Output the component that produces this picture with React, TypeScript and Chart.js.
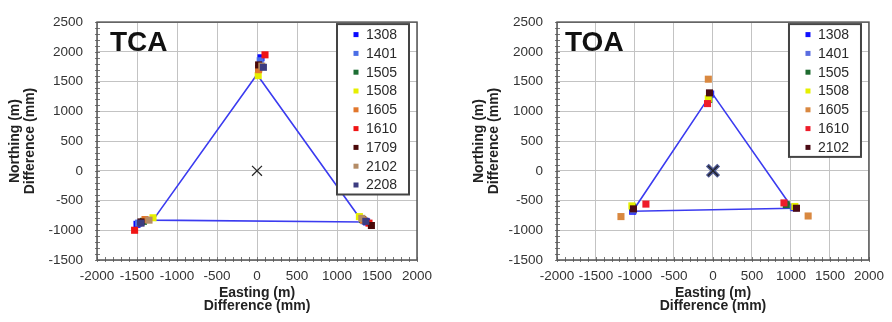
import React, { useEffect, useRef } from 'react';
import { Chart, registerables } from 'chart.js';

Chart.register(...registerables);

const FONT = '"Liberation Sans", Arial, Helvetica, sans-serif';

// ---------- TCA (left) ----------
const tcaSeries = ['1308', '1401', '1505', '1508', '1605', '1610', '1709', '2102', '2208'];
const tcaColors = ['#0a0aff', '#4a6ee6', '#1d6e34', '#e6ef00', '#e2772c', '#f01414', '#4a0808', '#b48c66', '#3c3c80'];
const tcaTopE = [50, 40, 20, 15, 20, 100, 20, 60, 80];
const tcaTopN = [1900, 1850, 1720, 1600, 1700, 1950, 1780, 1760, 1740];
const tcaLeftE = [-1500, -1480, -1420, -1300, -1400, -1530, -1450, -1350, -1450];
const tcaLeftN = [-900, -880, -850, -790, -820, -1000, -860, -830, -880];
const tcaRightE = [1370, 1340, 1320, 1280, 1330, 1400, 1430, 1310, 1360];
const tcaRightN = [-860, -840, -820, -770, -830, -880, -920, -800, -850];
const tcaFrameE = [0, 1320, -1300, 0];
const tcaFrameN = [1620, -860, -830, 1620];

// ---------- TOA (right) ----------
const toaSeries = ['1308', '1401', '1505', '1508', '1605', '1610', '2102'];
const toaColors = ['#1010ff', '#5a6de0', '#1e6b30', '#e5f000', '#d98840', '#ee1c2a', '#4a0a14'];
const toaTopE = [-30, -40, -55, -60, -60, -70, -45];
const toaTopN = [1290, 1280, 1200, 1210, 1540, 1130, 1310];
const toaLeftE = [-1030, -1020, -1030, -1040, -1180, -860, -1020];
const toaLeftN = [-680, -660, -610, -590, -770, -560, -640];
const toaRightE = [1040, 1030, 940, 1050, 1220, 910, 1070];
const toaRightN = [-620, -610, -570, -600, -760, -540, -630];
const toaFrameE = [-15, 1020, -1030, -15];
const toaFrameN = [1310, -630, -680, 1310];

const originE = [0];
const originN = [0];

const xTicksMin = -2000;
const xTicksMax = 2000;
const yTicksMin = -1500;
const yTicksMax = 2500;
const tickStep = 500;
const minorStep = 100;

type Pt = { x: number; y: number };
const pts = (e: number[], n: number[]): Pt[] => e.map((x, i) => ({ x, y: n[i] }));

function makeDecor(title: string, titleOffset: number) {
  return {
    id: 'decor_' + title,
    beforeDatasetsDraw(chart: any) {
      const { ctx, chartArea } = chart;
      const xs = chart.scales.x;
      const ys = chart.scales.y;
      ctx.save();
      ctx.strokeStyle = '#777';
      ctx.lineWidth = 1;
      ctx.beginPath();
      for (let v = xTicksMin; v <= xTicksMax; v += minorStep) {
        const px = Math.round(xs.getPixelForValue(v)) + 0.5;
        ctx.moveTo(px, chartArea.bottom + 2);
        ctx.lineTo(px, chartArea.bottom - 3);
      }
      for (let v = yTicksMin; v <= yTicksMax; v += minorStep) {
        const py = Math.round(ys.getPixelForValue(v)) + 0.5;
        ctx.moveTo(chartArea.left - 2, py);
        ctx.lineTo(chartArea.left + 3, py);
      }
      ctx.stroke();
      ctx.strokeStyle = '#555';
      ctx.lineWidth = 1.5;
      ctx.strokeRect(chartArea.left, chartArea.top, chartArea.right - chartArea.left, chartArea.bottom - chartArea.top);
      ctx.restore();
    },
    afterDraw(chart: any) {
      const { ctx, chartArea } = chart;
      ctx.save();
      ctx.fillStyle = '#111';
      ctx.font = `bold 28px ${FONT}`;
      ctx.textAlign = 'left';
      ctx.textBaseline = 'middle';
      ctx.fillText(title, chartArea.left + titleOffset, chartArea.top + 21);
      const items = chart.data.datasets.filter((d: any) => d.inLegend);
      const w = 72;
      const rowH = 18.8;
      const h = 20 + (items.length - 1) * rowH;
      const bx = chartArea.right - 8 - w;
      const by = chartArea.top + 2;
      ctx.fillStyle = '#fff';
      ctx.fillRect(bx, by, w, h);
      ctx.strokeStyle = '#444';
      ctx.lineWidth = 2;
      ctx.strokeRect(bx, by, w, h);
      ctx.font = `14px ${FONT}`;
      items.forEach((d: any, i: number) => {
        const cy = by + 10.5 + i * rowH;
        ctx.fillStyle = d.backgroundColor;
        ctx.fillRect(bx + 16.5, cy - 2.5, 5, 5);
        ctx.fillStyle = '#2a2a2a';
        ctx.fillText(d.label, bx + 29, cy + 0.5);
      });
      ctx.restore();
    },
  };
}

function buildConfig(
  title: string,
  titleOffset: number,
  series: string[],
  colors: string[],
  topE: number[], topN: number[],
  leftE: number[], leftN: number[],
  rightE: number[], rightN: number[],
  frameE: number[], frameN: number[],
  padLeft: number, padRight: number, yWidth: number,
  blueOrigin: boolean,
): any {
  const seriesSets = series.map((s, i) => ({
    label: s,
    inLegend: true,
    order: 10 + series.length - i,
    data: [
      { x: topE[i], y: topN[i] },
      { x: leftE[i], y: leftN[i] },
      { x: rightE[i], y: rightN[i] },
    ],
    pointStyle: 'rect',
    pointRadius: 5,
    backgroundColor: colors[i],
    borderColor: colors[i],
    borderWidth: 0,
    showLine: false,
  }));
  const originSets: any[] = [
    {
      label: 'origin',
      order: 1,
      data: pts(originE, originN),
      pointStyle: 'crossRot',
      pointRadius: 7,
      borderColor: '#222',
      backgroundColor: '#222',
      borderWidth: 1.2,
      showLine: false,
    },
  ];
  if (blueOrigin) {
    originSets.push({
      label: 'origin2',
      order: 2,
      data: pts(originE, originN),
      pointStyle: 'crossRot',
      pointRadius: 8,
      borderColor: '#4a5590',
      backgroundColor: '#4a5590',
      borderWidth: 4,
      showLine: false,
    });
  }
  const frameSet = {
    label: 'frame',
    order: 100,
    data: pts(frameE, frameN),
    showLine: true,
    pointRadius: 0,
    borderColor: '#3b3bf0',
    borderWidth: 1.6,
    fill: false,
    tension: 0,
  };
  return {
    type: 'scatter',
    data: { datasets: [...originSets, ...seriesSets, frameSet] },
    options: {
      responsive: false,
      animation: false,
      devicePixelRatio: 1,
      layout: { padding: { left: padLeft, right: padRight, top: 17, bottom: 0 } },
      plugins: { legend: { display: false }, tooltip: { enabled: false }, title: { display: false } },
      scales: {
        x: {
          type: 'linear',
          min: xTicksMin,
          max: xTicksMax,
          ticks: {
            stepSize: tickStep,
            color: '#333',
            font: { family: FONT, size: 13.5 },
            padding: 8,
            maxRotation: 0,
            autoSkip: false,
            callback: (v: any) => String(v),
          },
          grid: { color: '#c3c3c3', lineWidth: 1, drawTicks: false },
          border: { display: false },
          title: {
            display: true,
            text: ['Easting (m)', 'Difference (mm)'],
            color: '#222',
            font: { family: FONT, size: 14, weight: 'bold', lineHeight: 13 / 14 },
            padding: { top: 0, bottom: 9.5 },
          },
          afterFit: (s: any) => { s.height = 62; },
        },
        y: {
          type: 'linear',
          min: yTicksMin,
          max: yTicksMax,
          ticks: {
            stepSize: tickStep,
            color: '#333',
            font: { family: FONT, size: 13.5 },
            padding: 14,
            autoSkip: false,
            callback: (v: any) => String(v),
          },
          grid: { color: '#c3c3c3', lineWidth: 1, drawTicks: false },
          border: { display: false },
          title: {
            display: true,
            text: ['Northing (m)', 'Difference (mm)'],
            color: '#222',
            font: { family: FONT, size: 14, weight: 'bold', lineHeight: 15 / 14 },
            padding: { top: 7.5, bottom: 0 },
          },
          afterFit: (s: any) => { s.width = yWidth; },
        },
      },
    },
    plugins: [makeDecor(title, titleOffset)],
  };
}

function Panel({ cfg }: { cfg: () => any }) {
  const ref = useRef<HTMLCanvasElement | null>(null);
  useEffect(() => {
    if (!ref.current) return;
    const chart = new Chart(ref.current, cfg());
    return () => chart.destroy();
  }, []);
  return <canvas ref={ref} width={446} height={322} style={{ display: 'block', width: 446, height: 322 }} />;
}

export default function App() {
  return (
    <div style={{ position: 'fixed', left: 0, top: 0, width: 892, height: 322, display: 'flex', background: '#fff' }}>
      <Panel
        cfg={() =>
          buildConfig('TCA', 13, tcaSeries, tcaColors, tcaTopE, tcaTopN, tcaLeftE, tcaLeftN, tcaRightE, tcaRightN,
            tcaFrameE, tcaFrameN, 0, 29, 97, false)
        }
      />
      <Panel
        cfg={() =>
          buildConfig('TOA', 8, toaSeries, toaColors, toaTopE, toaTopN, toaLeftE, toaLeftN, toaRightE, toaRightN,
            toaFrameE, toaFrameN, 18, 16, 93, true)
        }
      />
    </div>
  );
}
